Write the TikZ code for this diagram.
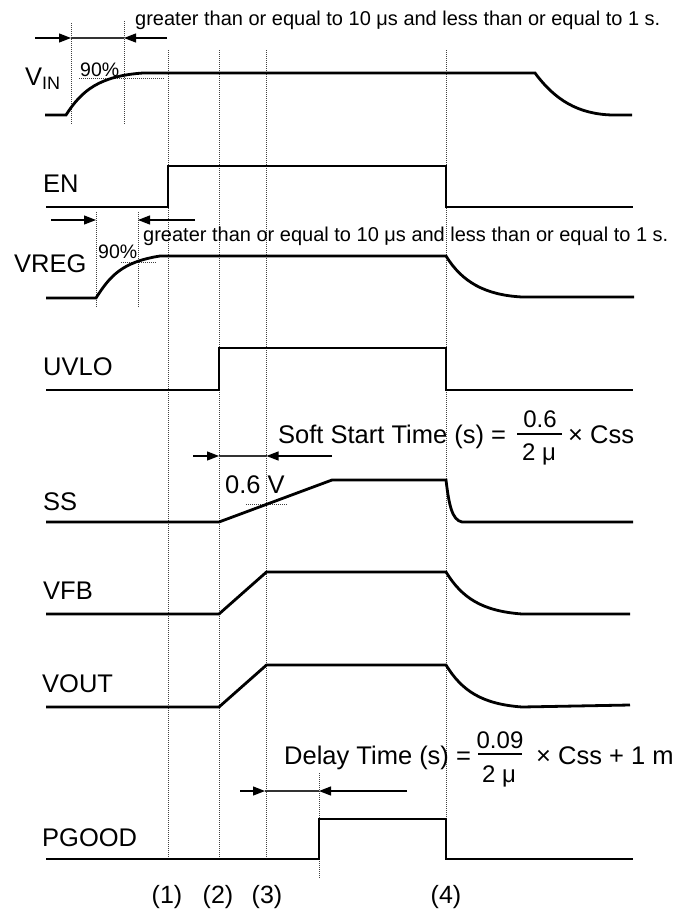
\documentclass[tikz,border=0pt]{standalone}
\usepackage{fontspec}
\setmainfont{Liberation Sans}
\usetikzlibrary{arrows.meta}
\begin{document}
\begin{tikzpicture}[x=1pt,y=-1pt,
  sig/.style={line width=2.8pt, line join=miter, line cap=butt},
  dotline/.style={black!75, line width=0.8pt, dash pattern=on 1pt off 1pt},
  arr/.style={line width=1.2pt, -{Triangle[length=12pt,width=9pt]}},
  thin/.style={line width=1.2pt, black!80},
  lbl/.style={font=\fontsize{25.5}{30}\selectfont, anchor=base west, inner sep=0pt},
  big/.style={font=\fontsize{24}{28}\selectfont, anchor=base, inner sep=0pt},
  note/.style={font=\fontsize{20}{24}\selectfont, anchor=base west, inner sep=0pt},
  pct/.style={font=\fontsize{19.5}{22}\selectfont, anchor=base west, inner sep=0pt},
  num/.style={font=\fontsize{25}{28}\selectfont, anchor=base, inner sep=0pt}]
\useasboundingbox[fill=white] (0,0) rectangle (690,910);

% dotted guide lines
\draw[dotline] (71,23) -- (71,125);
\draw[dotline] (124,21) -- (124,124);
\draw[dotline] (168,50) -- (168,858);
\draw[dotline] (219,50) -- (219,858);
\draw[dotline] (266.5,50) -- (266.5,858);
\draw[dotline] (446,50) -- (446,860);
\draw[dotline] (96,212) -- (96,308);
\draw[dotline] (138,212) -- (138,308);
\draw[dotline] (319,773) -- (319,878);
\draw[dotline] (79,78) -- (165,78);
\draw[dotline] (121,262) -- (157,262);
\draw[dotline] (246,504) -- (288,504);

% signals
\draw[sig] (45,115) -- (66,115) .. controls (82,90) and (100,76) .. (143,73) -- (535,73)
  .. controls (555,100) and (578,114) .. (612,115) -- (632,115);
\draw[sig] (46,207) -- (168,207) -- (168,166) -- (446,166) -- (446,207) -- (633,207);
\draw[sig] (46,298) -- (96,298) .. controls (110,276) and (122,262) .. (160,256) -- (446,256)
  .. controls (462,282) and (485,295) .. (522,297) -- (634,297);
\draw[sig] (46,390) -- (219,390) -- (219,348) -- (446,348) -- (446,390) -- (633,390);
\draw[sig] (46,522) -- (219,522) -- (332,480) -- (446,480)
  .. controls (449,505) and (452,520) .. (462,522) -- (633,522);
\draw[sig] (46,614) -- (219,614) -- (266.5,572) -- (446,572)
  .. controls (462,598) and (482,611) .. (522,614) -- (630,614);
\draw[sig] (46,707) -- (219,707) -- (266.5,665) -- (446,665)
  .. controls (462,691) and (482,704) .. (522,707) -- (630,705);
\draw[sig] (46,859) -- (319,859) -- (319,819) -- (446,819) -- (446,859) -- (633,859);

% timing arrows
\coordinate (a1) at (35,38); \coordinate (a2) at (71,38);
\coordinate (a3) at (167,38); \coordinate (a4) at (124,38);
\draw[thin] (a2) -- (a4);
\draw[arr] (a1) -- (a2);
\draw[arr] (a3) -- (a4);

\coordinate (b1) at (51,220); \coordinate (b2) at (96,220);
\coordinate (b3) at (195,220); \coordinate (b4) at (138,220);
\draw[arr] (b1) -- (b2);
\draw[arr] (b3) -- (b4);

\coordinate (c1) at (193,456); \coordinate (c2) at (219,456);
\coordinate (c3) at (332,456); \coordinate (c4) at (266.5,456);
\draw[thin] (c2) -- (c4);
\draw[arr] (c1) -- (c2);
\draw[arr] (c3) -- (c4);

\coordinate (d1) at (240,791); \coordinate (d2) at (265,791);
\coordinate (d3) at (407,791); \coordinate (d4) at (319,791);
\draw[thin] (d2) -- (d4);
\draw[arr] (d1) -- (d2);
\draw[arr] (d3) -- (d4);

% labels
\node[lbl] (vin) at (25,85) {V\raisebox{-4pt}{\fontsize{18}{20}\selectfont IN}};
\node[lbl] (en) at (43,192) {EN};
\node[lbl] (vreg) at (14,272) {VREG};
\node[lbl] (uvlo) at (43,375) {UVLO};
\node[lbl] (ss) at (43,510) {SS};
\node[lbl] (vfb) at (43,599) {VFB};
\node[lbl] (vout) at (42,692) {VOUT};
\node[lbl] (pgood) at (42,846) {PGOOD};

\node[note] (t1) at (135,25) {greater than or equal to 10 μs and less than or equal to 1 s.};
\node[note] (t2) at (143,241) {greater than or equal to 10 μs and less than or equal to 1 s.};
\node[pct] (p1) at (80,76) {90\%};
\node[pct] (p2) at (98,258) {90\%};
\node[lbl] (v06) at (225,493) {0.6 V};

\node[lbl] (sst) at (278,443) {Soft Start Time (s) =};
\node[big] (ssn) at (540,427) {0.6};
\draw[line width=1.3pt] (517,434) -- (562,434);
\node[big] (ssd) at (539,460) {2 μ};
\node[lbl] (ssc) at (568,443) {× Css};

\node[lbl] (dt) at (284,764) {Delay Time (s) =};
\node[big] (dtn) at (500,748) {0.09};
\draw[line width=1.3pt] (478,754) -- (522,754);
\node[big] (dtd) at (499,782) {2 μ};
\node[lbl] (dtc) at (536,764) {× Css + 1 m};

\node[num] (n1) at (167,903) {(1)};
\node[num] (n2) at (218,903) {(2)};
\node[num] (n3) at (267,903) {(3)};
\node[num] (n4) at (446,903) {(4)};
\end{tikzpicture}
\end{document}
